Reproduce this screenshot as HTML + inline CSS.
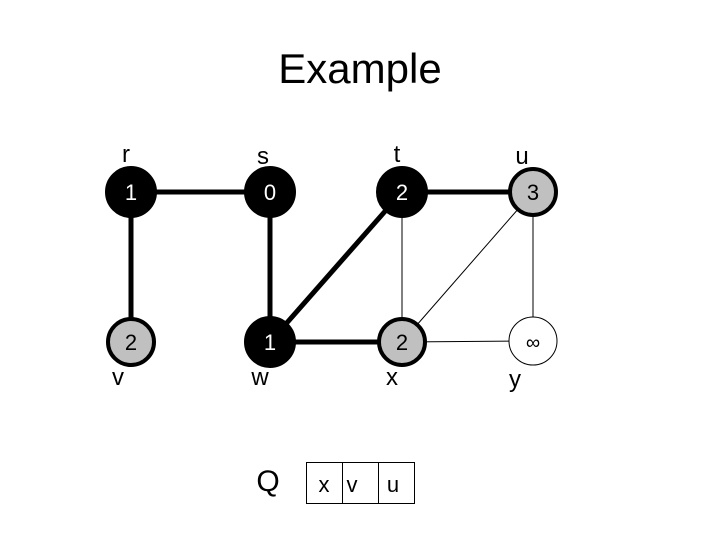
<!DOCTYPE html>
<html><head><meta charset="utf-8"><style>
html,body{margin:0;padding:0;background:#fff;}
svg{display:block;}
text{font-family:"Liberation Sans",sans-serif;}
</style></head><body>
<svg width="720" height="540" viewBox="0 0 720 540">
<text x="360" y="83" font-size="42" text-anchor="middle">Example</text>
<!-- thin edges -->
<g stroke="#000" stroke-width="1">
<line x1="402" y1="192" x2="402" y2="342"/>
<line x1="533" y1="192" x2="402" y2="342"/>
<line x1="533" y1="192" x2="533" y2="341"/>
<line x1="402" y1="342" x2="533" y2="341"/>
</g>
<!-- thick edges -->
<g stroke="#000" stroke-width="5">
<line x1="131" y1="192" x2="270" y2="192"/>
<line x1="131" y1="192" x2="131" y2="342"/>
<line x1="270" y1="192" x2="270" y2="342"/>
<line x1="402" y1="192" x2="270" y2="342"/>
<line x1="270" y1="342" x2="402" y2="342"/>
<line x1="402" y1="192" x2="533" y2="192"/>
</g>
<!-- nodes -->
<g stroke="#000" stroke-width="4">
<circle cx="131" cy="192" r="24" fill="#000"/>
<circle cx="270" cy="192" r="24" fill="#000"/>
<circle cx="402" cy="192" r="24" fill="#000"/>
<circle cx="533" cy="192" r="23" fill="#c0c0c0"/>
<circle cx="131" cy="342" r="23" fill="#c0c0c0"/>
<circle cx="270" cy="342" r="24" fill="#000"/>
<circle cx="402" cy="342" r="23" fill="#c0c0c0"/>
</g>
<circle cx="533" cy="341" r="24" fill="#fff" stroke="#000" stroke-width="1"/>
<g font-size="22" text-anchor="middle">
<text x="131" y="200" fill="#fff">1</text>
<text x="270" y="200" fill="#fff">0</text>
<text x="402" y="200" fill="#fff">2</text>
<text x="533" y="200">3</text>
<text x="131" y="350">2</text>
<text x="270" y="350" fill="#fff">1</text>
<text x="402" y="350">2</text>
<text x="533" y="349" font-size="20">∞</text>
</g>
<g font-size="24" text-anchor="middle">
<text x="126" y="162">r</text>
<text x="263" y="164">s</text>
<text x="397" y="162">t</text>
<text x="522" y="164">u</text>
<text x="118" y="385">v</text>
<text x="260" y="385">w</text>
<text x="392" y="385">x</text>
<text x="515" y="387">y</text>
</g>
<text x="268" y="491" font-size="30" text-anchor="middle">Q</text>
<g stroke="#000" stroke-width="1" fill="none">
<rect x="306.5" y="462.5" width="108" height="41"/>
<line x1="342.5" y1="462" x2="342.5" y2="504"/>
<line x1="378.5" y1="462" x2="378.5" y2="504"/>
</g>
<g font-size="22" text-anchor="middle">
<text x="324" y="492">x</text>
<text x="352" y="492">v</text>
<text x="393" y="492">u</text>
</g>
</svg>
</body></html>
